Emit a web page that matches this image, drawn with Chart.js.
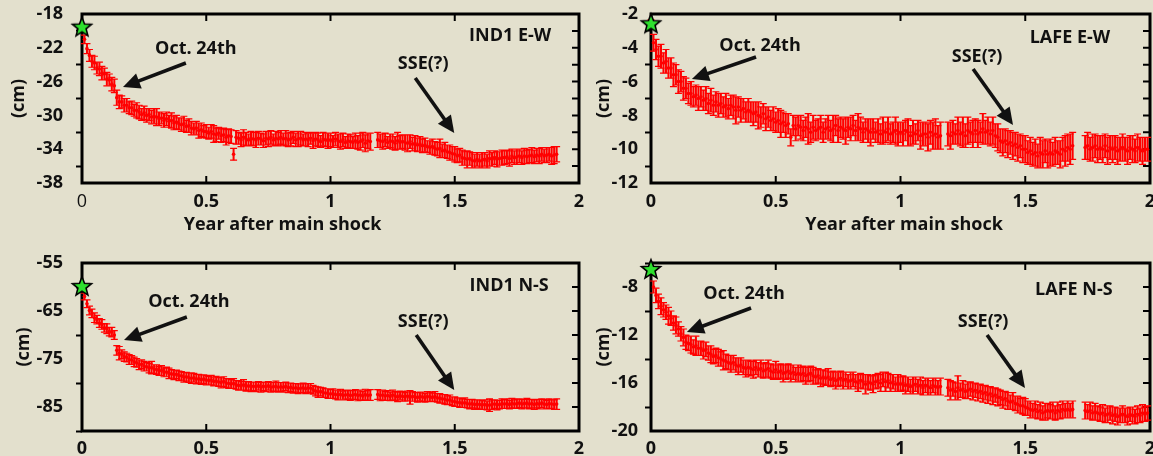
<!DOCTYPE html>
<html><head><meta charset="utf-8">
<script src="https://cdn.jsdelivr.net/npm/chart.js@4.4.1/dist/chart.umd.min.js"></script>
<style>
html,body{margin:0;padding:0;background:#e3e0cd;overflow:hidden;width:1153px;height:456px;}
#wrap{position:relative;width:1153px;height:456px;overflow:hidden;background:#e3e0cd;}
canvas{position:absolute;display:block;}
</style></head><body><div id="wrap">
<canvas id="c1" width="590" height="240" style="left:0;top:0"></canvas>
<canvas id="c2" width="580" height="240" style="left:590px;top:0"></canvas>
<canvas id="c3" width="590" height="240" style="left:0;top:240px"></canvas>
<canvas id="c4" width="580" height="240" style="left:590px;top:240px"></canvas>
</div>
<script>
// ---- data (years after main shock) ----
const TIMES = [
0.00,0.01,0.02,0.03,0.04,0.05,0.06,0.07,0.08,0.09,
0.10,0.11,0.12,0.13,0.14,0.15,0.16,0.17,0.18,0.19,
0.20,0.21,0.22,0.23,0.24,0.25,0.26,0.27,0.28,0.29,
0.30,0.31,0.32,0.33,0.34,0.35,0.36,0.37,0.38,0.39,
0.40,0.41,0.42,0.43,0.44,0.45,0.46,0.47,0.48,0.49,
0.50,0.51,0.52,0.53,0.54,0.55,0.56,0.57,0.58,0.59,
0.60,0.61,0.62,0.63,0.64,0.65,0.66,0.67,0.68,0.69,
0.70,0.71,0.72,0.73,0.74,0.75,0.76,0.77,0.78,0.79,
0.80,0.81,0.82,0.83,0.84,0.85,0.86,0.87,0.88,0.89,
0.90,0.91,0.92,0.93,0.94,0.95,0.96,0.97,0.98,0.99,
1.00,1.01,1.02,1.03,1.04,1.05,1.06,1.07,1.08,1.09,
1.10,1.11,1.12,1.13,1.14,1.15,1.16,1.17,1.18,1.19,
1.20,1.21,1.22,1.23,1.24,1.25,1.26,1.27,1.28,1.29,
1.30,1.31,1.32,1.33,1.34,1.35,1.36,1.37,1.38,1.39,
1.40,1.41,1.42,1.43,1.44,1.45,1.46,1.47,1.48,1.49,
1.50,1.51,1.52,1.53,1.54,1.55,1.56,1.57,1.58,1.59,
1.60,1.61,1.62,1.63,1.64,1.65,1.66,1.67,1.68,1.69,
1.70,1.71,1.72,1.73,1.74,1.75,1.76,1.77,1.78,1.79,
1.80,1.81,1.82,1.83,1.84,1.85,1.86,1.87,1.88,1.89,
1.90,1.91,1.92,1.93,1.94,1.95,1.96,1.97,1.98,1.99];

const IND1_EW = [
-19.5,-21.0,-22.1,-22.9,-23.6,-23.8,-24.4,-24.5,-25.0,-25.1,
-25.7,-25.8,-26.3,-26.5,-27.9,-28.4,-28.4,-28.8,-28.8,-29.1,
-29.1,-29.4,-29.4,-29.6,-29.9,-29.7,-30.0,-29.9,-30.2,-30.1,
-30.2,-30.4,-30.3,-30.6,-30.4,-30.7,-30.6,-30.9,-30.8,-31.0,
-31.1,-31.0,-31.3,-31.2,-31.5,-31.6,-31.5,-31.8,-31.7,-31.9,
-31.9,-32.1,-31.9,-32.2,-32.3,-32.1,-32.4,-32.3,-32.6,-32.4,
-32.5,-34.6,-32.6,-32.7,-32.9,-32.6,-32.8,-32.9,-32.7,-32.8,
-32.9,-32.7,-32.8,-33.0,-32.7,-32.8,-32.6,-32.9,-32.7,-32.8,
-32.6,-32.8,-32.7,-32.9,-32.8,-32.6,-32.9,-32.8,-32.7,-32.9,
-32.8,-32.9,-32.7,-33.0,-32.8,-32.9,-33.1,-32.8,-32.9,-33.0,
-32.9,-33.1,-32.8,-33.0,-33.1,-32.9,-33.2,-33.0,-33.1,-33.2,
-33.0,-33.2,-33.1,-32.9,-33.3,-33.0,-33.1,null,null,-32.9,
-33.0,-33.1,-32.9,-33.2,-33.0,-33.1,-33.3,-33.0,-33.2,-33.1,
-33.2,-33.3,-33.1,-33.4,-33.3,-33.5,-33.4,-33.6,-33.5,-33.7,
-33.8,-33.7,-33.9,-34.0,-33.9,-34.2,-34.1,-34.3,-34.4,-34.5,
-34.6,-34.8,-34.7,-35.0,-35.1,-35.2,-35.1,-35.3,-35.4,-35.2,
-35.4,-35.3,-35.2,-35.4,-35.1,-35.2,-35.0,-35.2,-35.1,-35.0,
-35.0,-34.9,-35.1,-34.8,-35.0,-34.9,-34.8,-35.0,-34.8,-34.9,
-34.8,-34.7,-34.9,-34.7,-34.8,-34.6,-34.8,-34.7,-34.6,-34.8,
-34.7,-34.6,null,null,null,null,null,null,null,null];
const IND1_EW_ERR = [
0.3,0.5,0.6,0.7,0.7,0.8,0.7,0.8,0.8,0.7,
0.8,0.7,0.8,0.8,0.9,0.8,0.7,0.8,0.8,0.7,
0.8,0.7,0.9,0.8,0.7,0.8,0.8,0.7,0.8,0.9,
1.0,0.8,0.7,0.8,0.8,0.7,0.9,0.8,0.8,0.7,
0.8,0.9,0.7,0.8,0.8,0.7,0.8,0.9,0.8,0.7,
0.8,0.7,0.8,1.0,0.8,0.7,0.8,0.8,0.9,0.8,
0.8,0.7,0.8,0.7,0.8,0.9,0.8,0.7,0.8,0.8,
0.9,0.8,0.7,0.8,0.8,0.9,0.8,0.7,0.8,0.8,
0.8,0.7,0.9,0.8,0.8,0.7,0.8,0.9,0.8,0.7,
0.8,0.8,0.7,0.9,0.8,0.8,0.7,0.8,0.8,0.9,
0.8,0.7,0.8,0.8,0.9,0.8,0.7,0.8,0.8,0.7,
0.9,0.8,1.0,0.9,1.0,0.9,1.0,null,null,0.9,
0.8,0.9,0.8,0.7,0.8,0.9,0.8,1.0,0.8,0.8,
0.9,1.0,0.8,0.8,0.9,0.8,0.9,0.8,0.8,0.7,
0.8,0.9,0.8,0.8,1.1,0.8,0.9,0.8,0.9,0.8,
0.9,0.8,0.8,0.9,0.8,1.0,0.8,0.9,0.8,0.8,
0.8,0.9,0.8,0.8,0.9,0.8,0.8,0.9,0.8,0.9,
0.8,0.8,0.9,0.8,0.8,0.9,0.8,0.8,0.9,0.8,
0.8,0.9,0.8,0.8,0.9,0.8,0.8,0.9,0.8,1.0,
1.0,0.9,null,null,null,null,null,null,null,null];

const LAFE_EW = [
-2.55,-3.7,-4.1,-4.5,-4.5,-4.9,-4.8,-5.2,-5.2,-5.6,
-5.6,-6.0,-6.0,-6.4,-6.4,-6.7,-6.7,-6.9,-6.8,-7.0,
-6.9,-7.1,-7.0,-7.3,-7.1,-7.4,-7.2,-7.4,-7.3,-7.5,
-7.4,-7.6,-7.4,-7.5,-7.7,-7.5,-7.7,-7.6,-7.8,-7.7,
-7.8,-7.9,-7.8,-8.0,-8.1,-7.9,-8.2,-8.1,-8.3,-8.2,
-8.4,-8.3,-8.5,-8.4,-8.6,-8.5,-9.3,-8.6,-8.8,-8.6,
-8.7,-8.9,-8.7,-8.8,-9.0,-8.7,-8.9,-8.8,-8.7,-9.0,
-8.8,-8.7,-8.9,-8.8,-8.6,-8.9,-8.7,-8.8,-8.9,-8.7,
-8.8,-8.6,-8.9,-8.7,-8.8,-9.0,-8.8,-8.9,-9.0,-8.8,
-9.0,-8.9,-9.1,-8.9,-9.0,-8.8,-9.1,-9.0,-8.9,-9.1,
-9.0,-9.1,-8.9,-9.0,-9.2,-9.0,-9.1,-8.9,-9.2,-9.1,
-9.1,-9.3,-9.0,-9.2,-9.1,-9.3,-9.2,null,null,-9.1,
-9.2,-9.0,-9.1,-8.9,-9.1,-9.0,-9.2,-8.9,-9.0,-9.1,
-8.9,-9.1,-9.0,-8.8,-9.0,-8.9,-9.1,-8.9,-9.2,-9.3,
-9.5,-9.6,-9.5,-9.7,-9.6,-9.8,-9.7,-9.9,-9.8,-10.0,
-10.0,-10.2,-10.1,-10.3,-10.2,-10.4,-10.2,-10.3,-10.1,-10.3,
-10.2,-10.3,-10.1,-10.2,-10.3,-10.0,-10.1,-9.9,-10.0,-9.8,
null,null,null,null,-9.9,-9.8,-10.0,-9.9,-9.8,-10.0,
-9.9,-10.0,-9.8,-10.1,-9.9,-10.0,-9.9,-10.1,-10.0,-9.9,
-10.0,-10.1,-9.9,-10.0,-10.1,-9.9,-10.0,-10.1,-10.0,-10.0];
const LAFE_EW_ERR = [
0.2,0.5,0.6,0.6,0.7,0.6,0.7,0.6,0.6,0.7,
0.6,0.7,0.6,0.7,0.6,0.6,0.7,0.6,0.6,0.7,
0.6,0.6,0.7,0.6,0.7,0.6,0.6,0.7,0.6,0.6,
0.7,0.6,0.6,0.7,0.8,0.6,0.7,0.6,0.6,0.7,
0.6,0.7,0.6,0.8,0.6,0.6,0.7,0.6,0.6,0.7,
0.6,0.7,0.8,0.6,0.7,0.6,0.5,0.6,0.7,0.6,
0.7,0.6,0.6,0.9,0.6,0.7,0.6,0.6,0.7,0.6,
0.6,0.7,0.6,0.8,0.6,0.7,0.6,0.6,0.8,0.6,
0.7,0.6,0.6,0.8,0.7,0.6,0.6,0.7,0.8,0.6,
0.6,0.7,0.6,0.8,0.6,0.7,0.6,0.6,0.8,0.7,
0.6,0.7,0.6,0.8,0.6,0.7,0.6,0.6,0.8,0.7,
0.7,0.8,0.7,0.8,0.9,0.7,0.8,null,null,0.7,
0.8,0.7,0.6,0.8,0.7,0.9,0.7,0.8,0.6,0.8,
0.7,0.8,0.6,0.9,0.7,0.8,0.7,0.8,0.7,0.8,
0.7,0.8,0.7,0.8,0.7,0.8,0.7,0.8,0.7,0.8,
0.8,0.7,0.8,0.7,0.8,0.7,0.9,0.8,0.7,0.8,
0.8,0.7,0.8,0.7,0.8,0.7,0.9,0.8,0.9,0.8,
null,null,null,null,0.7,0.8,0.7,0.8,0.7,0.8,
0.7,0.8,0.7,0.8,0.7,0.8,0.7,0.8,0.7,0.8,
0.7,0.8,0.7,0.8,0.7,0.8,0.7,0.8,0.7,0.7];

const IND1_NS = [
-59.8,-62.0,-63.5,-64.9,-65.5,-66.4,-66.8,-67.5,-67.8,-68.5,
-68.7,-69.3,-69.4,-70.0,-73.2,-73.8,-74.0,-74.5,-74.7,-75.1,
-75.2,-75.6,-75.8,-76.2,-76.1,-76.5,-76.6,-76.9,-76.8,-77.1,
-77.2,-77.5,-77.4,-77.8,-77.7,-78.0,-78.1,-78.3,-78.2,-78.5,
-78.5,-78.8,-78.7,-78.9,-79.0,-78.9,-79.2,-79.1,-79.3,-79.2,
-79.4,-79.5,-79.4,-79.7,-79.6,-79.8,-79.9,-79.7,-80.0,-80.1,
-80.2,-80.1,-80.4,-80.5,-80.6,-80.4,-80.7,-80.6,-80.8,-80.7,
-80.8,-80.6,-80.9,-80.7,-80.8,-80.6,-80.9,-80.8,-80.7,-80.9,
-80.8,-80.9,-80.7,-81.0,-80.9,-81.1,-81.0,-81.2,-81.1,-81.0,
-81.2,-81.0,-81.1,-81.4,-81.7,-81.9,-81.8,-82.0,-82.1,-82.2,
-82.3,-82.2,-82.4,-82.5,-82.4,-82.6,-82.5,-82.4,-82.6,-82.5,
-82.4,-82.6,-82.5,-82.7,-82.4,-82.6,-82.5,null,null,-82.4,
-82.6,-82.5,-82.7,-82.6,-82.8,-82.5,-82.7,-82.9,-82.6,-82.8,
-82.9,-82.7,-83.0,-82.8,-82.9,-83.0,-82.8,-82.9,-83.1,-82.8,
-82.9,-83.0,-82.8,-83.1,-83.2,-83.3,-83.4,-83.6,-83.5,-83.8,
-83.9,-84.0,-84.1,-84.2,-84.1,-84.3,-84.4,-84.3,-84.5,-84.4,
-84.5,-84.6,-84.5,-84.7,-84.6,-84.5,-84.4,-84.6,-84.5,-84.3,
-84.4,-84.3,-84.5,-84.2,-84.4,-84.3,-84.2,-84.4,-84.3,-84.2,
-84.4,-84.3,-84.5,-84.3,-84.4,-84.2,-84.4,-84.5,-84.3,-84.4,
-84.5,-84.4,null,null,null,null,null,null,null,null];
const IND1_NS_ERR = [
0.4,0.7,0.8,0.9,0.9,1.0,0.9,0.9,1.0,0.9,
1.0,0.9,1.0,0.9,1.0,1.4,0.9,1.0,0.9,1.0,
0.9,1.0,0.9,1.0,0.9,1.0,0.9,1.0,1.3,0.9,
1.0,0.9,1.0,0.9,1.0,1.1,0.9,1.0,0.9,1.0,
0.9,1.0,0.9,1.0,1.1,0.9,1.0,0.9,1.0,0.9,
1.0,0.9,1.0,0.9,1.0,0.9,1.1,1.0,0.9,1.0,
0.9,1.0,0.9,1.0,0.9,1.1,1.0,0.9,1.0,0.9,
1.0,0.9,1.0,0.9,1.0,0.9,1.0,0.9,1.1,1.0,
0.9,1.0,0.9,1.0,0.9,1.0,0.9,1.0,0.9,1.0,
1.0,0.9,1.0,0.9,1.0,1.1,0.9,1.0,0.9,1.0,
0.9,1.0,0.9,1.0,1.1,0.9,1.0,0.9,1.0,0.9,
1.0,1.1,1.0,0.9,1.1,1.0,1.1,null,null,1.0,
1.1,1.0,0.9,1.0,0.9,1.0,0.9,1.0,0.9,1.0,
0.9,1.0,1.4,1.0,0.9,1.0,0.9,1.0,0.9,1.0,
1.0,0.9,1.0,0.9,1.0,0.9,1.0,0.9,1.0,0.9,
1.0,0.9,1.0,0.9,1.0,0.9,1.0,0.9,1.0,0.9,
1.0,0.9,1.0,0.9,1.3,1.0,0.9,1.0,0.9,1.0,
0.9,1.0,0.9,1.0,0.9,1.0,0.9,1.0,0.9,1.0,
1.0,0.9,1.0,0.9,1.0,0.9,1.0,0.9,1.0,0.9,
1.0,1.1,null,null,null,null,null,null,null,null];

const LAFE_NS = [
-6.5,-8.0,-8.7,-9.2,-9.6,-9.9,-10.1,-10.4,-10.6,-11.0,
-11.2,-11.5,-11.9,-12.2,-12.6,-12.7,-12.8,-13.0,-12.9,-13.1,
-13.1,-13.3,-13.2,-13.5,-13.6,-13.8,-13.7,-13.9,-14.0,-14.1,
-14.2,-14.3,-14.4,-14.3,-14.5,-14.6,-14.5,-14.7,-14.8,-14.7,
-14.8,-14.9,-14.7,-14.9,-14.8,-15.0,-14.9,-14.8,-15.0,-15.1,
-14.9,-15.1,-15.0,-15.2,-15.1,-15.0,-15.2,-15.1,-15.3,-15.2,
-15.3,-15.2,-15.4,-15.3,-15.2,-15.4,-15.5,-15.4,-15.6,-15.5,
-15.6,-15.5,-15.7,-15.6,-15.8,-15.7,-15.6,-15.8,-15.7,-15.9,
-15.8,-15.7,-15.9,-16.0,-15.8,-15.9,-16.1,-15.9,-16.0,-16.1,
-15.9,-15.8,-16.0,-15.7,-15.9,-15.8,-16.0,-15.9,-16.1,-16.0,
-16.1,-16.0,-16.2,-16.1,-16.3,-16.2,-16.1,-16.3,-16.2,-16.4,
-16.2,-16.3,-16.4,-16.2,-16.3,-16.4,-16.3,null,null,-16.4,
-16.6,-16.5,-16.7,-16.4,-16.6,-16.5,-16.7,-16.6,-16.5,-16.7,
-16.6,-16.8,-16.7,-16.9,-16.8,-17.0,-16.9,-17.1,-17.0,-17.2,
-17.2,-17.4,-17.3,-17.5,-17.6,-17.5,-17.7,-17.8,-17.9,-17.9,
-18.0,-18.1,-18.2,-18.3,-18.2,-18.4,-18.3,-18.5,-18.4,-18.3,
-18.4,-18.3,-18.5,-18.3,-18.4,-18.2,-18.3,-18.2,-18.3,-18.2,
null,null,null,null,-18.3,-18.4,-18.3,-18.5,-18.4,-18.5,
-18.6,-18.5,-18.7,-18.6,-18.5,-18.7,-18.6,-18.8,-18.7,-18.6,
-18.7,-18.8,-18.6,-18.7,-18.8,-18.6,-18.7,-18.5,-18.6,-18.5];
const LAFE_NS_ERR = [
0.2,0.5,0.6,0.6,0.7,0.6,0.6,0.7,0.6,0.6,
0.7,0.6,0.6,0.7,0.6,0.6,0.7,0.6,0.8,0.6,
0.6,0.7,0.6,0.6,0.7,0.6,0.6,0.7,0.6,0.8,
0.6,0.6,0.7,0.6,0.6,0.7,0.6,0.6,0.7,0.6,
0.6,0.7,0.6,0.6,0.7,0.6,0.6,0.7,0.6,0.6,
0.7,0.6,0.6,0.7,0.6,0.6,0.7,0.6,0.6,0.7,
0.6,0.6,0.7,0.6,0.6,0.7,0.6,0.6,0.7,0.6,
0.6,0.7,0.6,0.6,0.7,0.6,0.6,0.7,0.6,0.6,
0.7,0.6,0.6,0.7,0.6,0.6,0.8,0.6,0.6,0.7,
0.6,0.6,0.7,0.6,0.8,0.6,0.7,0.6,0.6,0.7,
0.6,0.6,0.7,0.6,0.6,0.7,0.6,0.6,0.7,0.6,
0.6,0.7,0.6,0.6,0.7,0.6,0.7,null,null,0.7,
0.8,0.6,0.7,1.0,0.6,0.7,0.6,0.7,0.6,0.7,
0.6,0.7,0.6,0.7,0.6,0.7,0.6,0.7,0.6,0.7,
0.6,0.7,0.6,0.7,0.6,0.7,0.6,0.7,0.6,0.7,
0.7,0.6,0.7,0.6,0.7,0.6,0.7,0.6,0.7,0.6,
0.6,0.7,0.6,0.7,0.6,0.7,0.6,0.7,0.6,0.7,
null,null,null,null,0.7,0.6,0.7,0.6,0.7,0.6,
0.6,0.7,0.6,0.7,0.6,0.7,0.6,0.7,0.6,0.7,
0.6,0.7,0.6,0.7,0.6,0.7,0.6,0.7,0.6,0.6];

// ---- ticks ----
const YEAR_TICKS = [0, 0.5, 1, 1.5, 2];
const IND1_EW_TICKS = [-38,-36,-34,-32,-30,-28,-26,-24,-22,-20,-18];
const IND1_EW_LABELS = [-38,-34,-30,-26,-22,-18];
const LAFE_EW_TICKS = [-12,-11,-10,-9,-8,-7,-6,-5,-4,-3,-2];
const LAFE_EW_LABELS = [-12,-10,-8,-6,-4,-2];
const IND1_NS_TICKS = [-90,-85,-80,-75,-70,-65,-60,-55];
const IND1_NS_LABELS = [-85,-75,-65,-55];
const LAFE_NS_TICKS = [-20,-18,-16,-14,-12,-10,-8,-6];
const LAFE_NS_LABELS = [-20,-16,-12,-8];

// ---- texts ----
const X_TITLE = 'Year after main shock';
const Y_TITLE = '(cm)';
const EVENT_1 = 'Oct. 24th';
const EVENT_2 = 'SSE(?)';

// ---- style ----
const FONT = "'Open Sans', 'DejaVu Sans', sans-serif";
const INK = '#111111';
const RED = '#ff0000';

function makeStar() {
  const c = document.createElement('canvas');
  c.width = 24; c.height = 24;
  const g = c.getContext('2d');
  g.beginPath();
  for (let i = 0; i < 10; i++) {
    const r = i % 2 ? 4.3 : 10;
    const a = -Math.PI / 2 + i * Math.PI / 5;
    g.lineTo(12 + r * Math.cos(a), 12.8 + r * Math.sin(a));
  }
  g.closePath();
  g.fillStyle = '#2ee02e';
  g.fill();
  g.lineWidth = 1.6;
  g.strokeStyle = '#000';
  g.stroke();
  return c;
}
const STAR = makeStar();

const errorBarPlugin = {
  id: 'errorBars',
  beforeDatasetDraw(chart, args) {
    const ds = chart.data.datasets[args.index];
    if (!ds.errorBars) return;
    const ys = chart.scales.y, ctx = chart.ctx;
    ctx.save();
    ctx.strokeStyle = RED;
    ctx.lineWidth = 2;
    ctx.beginPath();
    args.meta.data.forEach((el, i) => {
      const d = ds.data[i];
      if (!d || d.e == null) return;
      const yt = ys.getPixelForValue(d.y + d.e), yb = ys.getPixelForValue(d.y - d.e);
      ctx.moveTo(el.x, yt); ctx.lineTo(el.x, yb);
    });
    ctx.stroke();
    ctx.lineWidth = 1.2;
    ctx.beginPath();
    args.meta.data.forEach((el, i) => {
      const d = ds.data[i];
      if (!d || d.e == null) return;
      const yt = ys.getPixelForValue(d.y + d.e), yb = ys.getPixelForValue(d.y - d.e);
      ctx.moveTo(el.x - 3.5, yt); ctx.lineTo(el.x + 3.5, yt);
      ctx.moveTo(el.x - 3.5, yb); ctx.lineTo(el.x + 3.5, yb);
    });
    ctx.stroke();
    ctx.restore();
  }
};

const framePlugin = {
  id: 'frame',
  beforeDatasetsDraw(chart) {
    const {ctx, chartArea: a, scales: {x, y}} = chart;
    ctx.save();
    ctx.strokeStyle = '#000';
    ctx.lineWidth = 2;
    ctx.beginPath();
    x.ticks.forEach(t => {
      if (t.value <= x.min || t.value >= x.max) return;
      const px = x.getPixelForValue(t.value);
      ctx.moveTo(px, a.bottom); ctx.lineTo(px, a.bottom - 7);
      ctx.moveTo(px, a.top); ctx.lineTo(px, a.top + 7);
    });
    y.ticks.forEach(t => {
      if (t.value <= y.min || t.value >= y.max) return;
      const py = y.getPixelForValue(t.value);
      ctx.moveTo(a.right, py); ctx.lineTo(a.right - 7, py);
    });
    ctx.stroke();
    ctx.lineWidth = 3;
    ctx.strokeRect(a.left, a.top, a.right - a.left, a.bottom - a.top);
    ctx.restore();
  }
};

function drawArrow(ctx, x1, y1, x2, y2) {
  const ang = Math.atan2(y2 - y1, x2 - x1);
  const head = 17, half = 8;
  const bx = x2 - head * Math.cos(ang), by = y2 - head * Math.sin(ang);
  ctx.beginPath();
  ctx.moveTo(x1, y1); ctx.lineTo(bx + 2 * Math.cos(ang), by + 2 * Math.sin(ang));
  ctx.lineWidth = 3.6;
  ctx.stroke();
  ctx.beginPath();
  ctx.moveTo(x2, y2);
  ctx.lineTo(bx + half * Math.sin(ang), by - half * Math.cos(ang));
  ctx.lineTo(bx - half * Math.sin(ang), by + half * Math.cos(ang));
  ctx.closePath();
  ctx.fill();
}

const notesPlugin = {
  id: 'notes',
  afterDatasetsDraw(chart, args, o) {
    const {ctx, chartArea: a, scales: {x, y}} = chart;
    const X = v => x.getPixelForValue(v), Y = v => y.getPixelForValue(v);
    ctx.save();
    ctx.fillStyle = INK; ctx.strokeStyle = INK;
    ctx.font = 'bold 18px ' + FONT;
    ctx.textAlign = 'center'; ctx.textBaseline = 'middle';
    ctx.fillText(EVENT_1, X(o.oct[0]), Y(o.oct[1]));
    ctx.fillText(EVENT_2, X(o.sse[0]), Y(o.sse[1]));
    ctx.fillText(o.station, X(o.label[0]), Y(o.label[1]));
    if (o.xTitle) ctx.fillText(X_TITLE, X(o.xTitle[0]), a.bottom + o.xTitle[1]);
    drawArrow(ctx, X(o.octArrow[0]), Y(o.octArrow[1]), X(o.octArrow[2]), Y(o.octArrow[3]));
    drawArrow(ctx, X(o.sseArrow[0]), Y(o.sseArrow[1]), X(o.sseArrow[2]), Y(o.sseArrow[3]));
    ctx.restore();
  }
};

const PANELS = [
  {canvas: 'c1', values: IND1_EW, errors: IND1_EW_ERR, yMin: -38, yMax: -18, yTicks: IND1_EW_TICKS, yLabels: IND1_EW_LABELS,
   pad: {left: 0, top: 14, right: 10, bottom: 0}, yAxisW: 82, xAxisH: 57, yLabelPad: 13, yTitlePad: 8, xLabelPad: 8, thinZero: true,
   notes: {station: 'IND1 E-W', oct: [0.458, -22.14], octArrow: [0.418, -23.8, 0.165, -26.64],
           sse: [1.373, -23.92], sseArrow: [1.341, -25.57, 1.498, -32.08], label: [1.723, -20.6], xTitle: [0.807, 42]}},
  {canvas: 'c2', values: LAFE_EW, errors: LAFE_EW_ERR, yMin: -12, yMax: -2, yTicks: LAFE_EW_TICKS, yLabels: LAFE_EW_LABELS,
   pad: {left: 0, top: 14, right: 20, bottom: 0}, yAxisW: 61, xAxisH: 57, yLabelPad: 7, yTitlePad: 3, xLabelPad: 8, thinZero: false,
   notes: {station: 'LAFE E-W', oct: [0.437, -3.89], octArrow: [0.421, -4.54, 0.164, -5.85],
           sse: [1.307, -4.54], sseArrow: [1.291, -5.25, 1.451, -8.57], label: [1.679, -3.42], xTitle: [1.014, 42]}},
  {canvas: 'c3', values: IND1_NS, errors: IND1_NS_ERR, yMin: -90, yMax: -55, yTicks: IND1_NS_TICKS, yLabels: IND1_NS_LABELS,
   pad: {left: 0, top: 23, right: 10, bottom: 0}, yAxisW: 82, xAxisH: 49, yLabelPad: 13, yTitlePad: 13, xLabelPad: 7, thinZero: false,
   notes: {station: 'IND1 N-S', oct: [0.43, -63.1], octArrow: [0.422, -66.25, 0.169, -71.04],
           sse: [1.373, -67.3], sseArrow: [1.345, -70.0, 1.498, -81.46], label: [1.719, -59.8], xTitle: null}},
  {canvas: 'c4', values: LAFE_NS, errors: LAFE_NS_ERR, yMin: -20, yMax: -6, yTicks: LAFE_NS_TICKS, yLabels: LAFE_NS_LABELS,
   pad: {left: 0, top: 23, right: 20, bottom: 0}, yAxisW: 61, xAxisH: 49, yLabelPad: 7, yTitlePad: 3, xLabelPad: 7, thinZero: false,
   notes: {station: 'LAFE N-S', oct: [0.373, -8.58], octArrow: [0.401, -9.75, 0.144, -11.75],
           sse: [1.331, -10.92], sseArrow: [1.347, -12.0, 1.499, -16.42], label: [1.695, -8.25], xTitle: null}}
];

PANELS.forEach(p => {
  const pts = [];
  TIMES.forEach((t, i) => {
    if (p.values[i] !== null) pts.push({x: t, y: p.values[i], e: p.errors[i]});
  });
  const isLabel = v => p.yLabels.some(l => Math.abs(l - v) < 1e-6);
  new Chart(document.getElementById(p.canvas), {
    type: 'scatter',
    data: {
      datasets: [
        {data: pts, errorBars: true, showLine: false, pointRadius: 1.8, pointHoverRadius: 1.8,
         pointBackgroundColor: RED, pointBorderWidth: 0, order: 1, clip: false},
        {data: [{x: TIMES[0], y: p.values[0]}], pointStyle: STAR, pointRadius: 10, order: 0, clip: false}
      ]
    },
    options: {
      responsive: false, animation: false, events: [],
      layout: {padding: p.pad},
      plugins: {legend: {display: false}, tooltip: {enabled: false}, notes: p.notes},
      scales: {
        x: {
          type: 'linear', min: 0, max: 2,
          afterBuildTicks: s => { s.ticks = YEAR_TICKS.map(v => ({value: v})); },
          afterFit: s => { s.height = p.xAxisH; s.paddingLeft = 0; s.paddingRight = 0; },
          grid: {display: false, drawTicks: false},
          border: {display: false},
          ticks: {
            padding: p.xLabelPad, color: INK, autoSkip: false, maxRotation: 0,
            font: c => ({family: FONT, size: 18, weight: (p.thinZero && c.tick && c.tick.value === 0) ? 'normal' : 'bold'}),
            callback: v => String(v)
          }
        },
        y: {
          type: 'linear', min: p.yMin, max: p.yMax,
          afterBuildTicks: s => { s.ticks = p.yTicks.map(v => ({value: v})); },
          afterFit: s => { s.width = p.yAxisW; s.paddingTop = 0; s.paddingBottom = 0; },
          grid: {drawOnChartArea: false, drawTicks: true, tickLength: 6, tickWidth: 2,
                 tickColor: c => (c.tick && isLabel(c.tick.value)) ? 'rgba(0,0,0,0)' : '#000'},
          border: {display: false},
          title: {display: true, text: Y_TITLE, color: INK, font: {family: FONT, size: 18, weight: 'bold'},
                  padding: {top: p.yTitlePad, bottom: 0}},
          ticks: {
            padding: p.yLabelPad, color: INK, autoSkip: false,
            font: {family: FONT, size: 18, weight: 'bold'},
            callback: v => isLabel(v) ? String(v) : ''
          }
        }
      }
    },
    plugins: [errorBarPlugin, framePlugin, notesPlugin]
  });
});
</script>
</body></html>
